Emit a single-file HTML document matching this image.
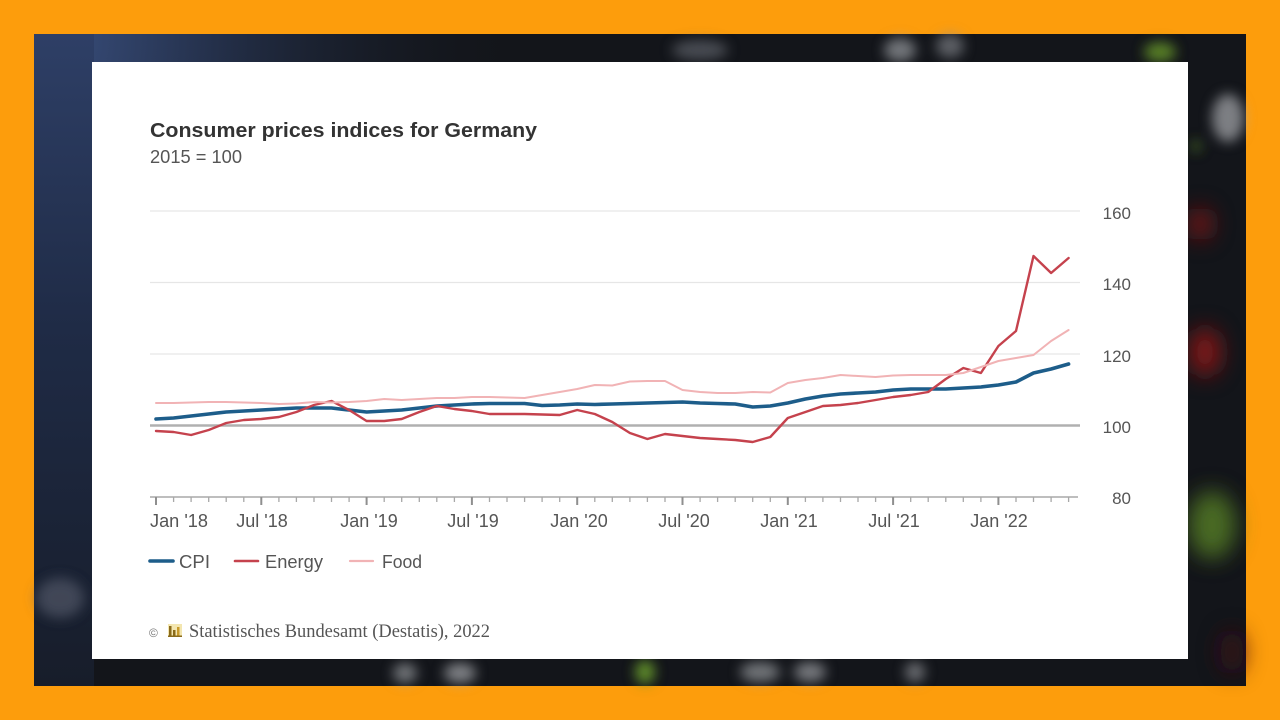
<!DOCTYPE html>
<html>
<head>
<meta charset="utf-8">
<style>
  html,body{margin:0;padding:0;background:#fd9d0c;}
  svg{display:block;}
  text{font-family:"Liberation Sans",Arial,sans-serif;}
</style>
</head>
<body>
<svg width="1280" height="720" viewBox="0 0 1280 720" xmlns="http://www.w3.org/2000/svg">
  <defs>
    <radialGradient id="navy" cx="40" cy="40" r="480" gradientUnits="userSpaceOnUse">
      <stop offset="0" stop-color="#3a5080"/>
      <stop offset="0.4" stop-color="#222d45"/>
      <stop offset="1" stop-color="#14171d" stop-opacity="0"/>
    </radialGradient>
    <linearGradient id="leftg" x1="0" y1="0" x2="0" y2="1">
      <stop offset="0" stop-color="#2e3f66"/>
      <stop offset="0.45" stop-color="#1f2b46"/>
      <stop offset="1" stop-color="#171d2a"/>
    </linearGradient>
    <filter id="blur" x="-50%" y="-50%" width="200%" height="200%">
      <feGaussianBlur stdDeviation="6"/>
    </filter>
    <filter id="blur2" x="-60%" y="-60%" width="220%" height="220%">
      <feGaussianBlur stdDeviation="11"/>
    </filter>
  </defs>

  <!-- orange frame -->
  <rect x="0" y="0" width="1280" height="720" fill="#fd9d0c"/>
  <!-- dark panel -->
  <rect x="34" y="34" width="1212" height="652" fill="#13151a"/>
  <rect x="34" y="34" width="700" height="652" fill="url(#navy)"/>
  <rect x="34" y="34" width="60" height="652" fill="url(#leftg)"/>

  <!-- blurred background blobs -->
  <g filter="url(#blur)">
    <ellipse cx="60" cy="598" rx="24" ry="20" fill="#5a6070" opacity="0.6"/>
    <ellipse cx="700" cy="50" rx="28" ry="10" fill="#6d7178" opacity="0.6"/>
    <ellipse cx="900" cy="50" rx="16" ry="12" fill="#9a9ea3" opacity="0.7"/>
    <ellipse cx="950" cy="46" rx="14" ry="12" fill="#8d9196" opacity="0.6"/>
    <ellipse cx="1160" cy="52" rx="16" ry="10" fill="#5e8a2a" opacity="0.9"/>
    <ellipse cx="1228" cy="118" rx="16" ry="24" fill="#a9acb0" opacity="0.7"/>
    <ellipse cx="1196" cy="146" rx="5" ry="6" fill="#4a6f24" opacity="0.8"/>
    <ellipse cx="405" cy="673" rx="12" ry="10" fill="#999ca0" opacity="0.7"/>
    <ellipse cx="460" cy="673" rx="16" ry="10" fill="#a3a6aa" opacity="0.75"/>
    <ellipse cx="645" cy="672" rx="10" ry="12" fill="#66982c" opacity="0.9"/>
    <ellipse cx="760" cy="672" rx="20" ry="10" fill="#999ca0" opacity="0.7"/>
    <ellipse cx="810" cy="672" rx="16" ry="10" fill="#a0a3a7" opacity="0.7"/>
    <ellipse cx="915" cy="672" rx="10" ry="10" fill="#909397" opacity="0.7"/>
  </g>
  <g filter="url(#blur2)">
    <ellipse cx="1200" cy="224" rx="12" ry="16" fill="#7e1418" opacity="0.9"/>
    <ellipse cx="1205" cy="352" rx="16" ry="24" fill="#8e151a" opacity="0.9"/>
    <ellipse cx="1212" cy="525" rx="24" ry="34" fill="#4f7424" opacity="0.9"/>
    <ellipse cx="1232" cy="652" rx="12" ry="22" fill="#40121a" opacity="0.8"/>
  </g>

  <!-- white card -->
  <rect x="92" y="62" width="1096" height="597" fill="#ffffff"/>

  <!-- title -->
  <text x="150" y="137" font-size="20" font-weight="bold" fill="#333333" textLength="387" lengthAdjust="spacingAndGlyphs">Consumer prices indices for Germany</text>
  <text x="150" y="163" font-size="18" fill="#555555" textLength="92" lengthAdjust="spacingAndGlyphs">2015 = 100</text>

  <!-- gridlines -->
  <g stroke="#e6e6e6" stroke-width="1.2">
    <line x1="150" y1="211" x2="1080" y2="211"/>
    <line x1="150" y1="282.5" x2="1080" y2="282.5"/>
    <line x1="150" y1="354" x2="1080" y2="354"/>
  </g>
  <line x1="150" y1="425.5" x2="1080" y2="425.5" stroke="#b0b0b0" stroke-width="2.6"/>

  <!-- x axis -->
  <line x1="150" y1="497" x2="1078" y2="497" stroke="#a8a8a8" stroke-width="1.5"/>
  <path stroke="#a8a8a8" stroke-width="1.3" fill="none" d="M156 497v5M173.6 497v5M191.1 497v5M208.7 497v5M226.2 497v5M243.8 497v5M261.3 497v5M278.9 497v5M296.4 497v5M314 497v5M331.5 497v5M349.1 497v5M366.6 497v5M384.2 497v5M401.7 497v5M419.3 497v5M436.8 497v5M454.4 497v5M471.9 497v5M489.5 497v5M507 497v5M524.6 497v5M542.1 497v5M559.7 497v5M577.2 497v5M594.8 497v5M612.3 497v5M629.9 497v5M647.4 497v5M665 497v5M682.5 497v5M700.1 497v5M717.6 497v5M735.2 497v5M752.7 497v5M770.3 497v5M787.8 497v5M805.4 497v5M822.9 497v5M840.5 497v5M858 497v5M875.6 497v5M893.1 497v5M910.7 497v5M928.2 497v5M945.8 497v5M963.3 497v5M980.9 497v5M998.4 497v5M1016 497v5M1033.5 497v5M1051.1 497v5M1068.6 497v5"/>
  <path stroke="#8f8f8f" stroke-width="2" fill="none" d="M156 497v8M261.3 497v8M366.6 497v8M471.9 497v8M577.2 497v8M682.5 497v8M787.8 497v8M893.1 497v8M998.4 497v8"/>

  <!-- x labels -->
  <g font-size="18" fill="#555555">
    <text x="150" y="527" textLength="58" lengthAdjust="spacingAndGlyphs">Jan '18</text>
    <text x="262" y="527" text-anchor="middle">Jul '18</text>
    <text x="369" y="527" text-anchor="middle">Jan '19</text>
    <text x="473" y="527" text-anchor="middle">Jul '19</text>
    <text x="579" y="527" text-anchor="middle">Jan '20</text>
    <text x="684" y="527" text-anchor="middle">Jul '20</text>
    <text x="789" y="527" text-anchor="middle">Jan '21</text>
    <text x="894" y="527" text-anchor="middle">Jul '21</text>
    <text x="999" y="527" text-anchor="middle">Jan '22</text>
  </g>

  <!-- y labels -->
  <g font-size="17" fill="#555555" text-anchor="end">
    <text x="1131" y="219">160</text>
    <text x="1131" y="290">140</text>
    <text x="1131" y="362">120</text>
    <text x="1131" y="433">100</text>
    <text x="1131" y="504">80</text>
  </g>

  <!-- series -->
  <polyline fill="none" stroke="#1d5d8a" stroke-width="3.6" stroke-linejoin="round" stroke-linecap="round"
    points="156,419 173.6,418 191.1,416 208.7,414 226.2,412 243.8,411 261.3,410 278.9,409 296.4,408 314,408 331.5,408 349.1,410 366.6,412 384.2,411 401.7,410 419.3,408 436.8,406 454.4,405 471.9,404 489.5,403.5 507,403.5 524.6,403.5 542.1,405.5 559.7,405 577.2,404 594.8,404.5 612.3,404 629.9,403.5 647.4,403 665,402.5 682.5,402 700.1,403 717.6,403.5 735.2,404 752.7,407 770.3,406 787.8,403 805.4,399 822.9,396 840.5,394 858,393 875.6,392 893.1,390 910.7,389 928.2,389 945.8,389 963.3,388 980.9,387 998.4,385 1016,382 1033.5,373 1051.1,369 1068.6,364"/>
  <polyline fill="none" stroke="#c5424d" stroke-width="2.4" stroke-linejoin="round" stroke-linecap="round"
    points="156,431 173.6,432 191.1,435 208.7,430 226.2,423 243.8,420 261.3,419 278.9,417 296.4,412 314,405 331.5,401 349.1,410 366.6,421 384.2,421 401.7,419 419.3,412 436.8,406 454.4,409 471.9,411 489.5,414 507,414 524.6,414 542.1,414.5 559.7,415 577.2,410 594.8,414 612.3,422 629.9,433 647.4,439 665,434 682.5,436 700.1,438 717.6,439 735.2,440 752.7,442 770.3,437 787.8,418 805.4,412 822.9,406 840.5,405 858,403 875.6,400 893.1,397 910.7,395 928.2,392 945.8,379 963.3,368 980.9,373 998.4,346 1016,331 1033.5,256 1051.1,273 1068.6,258"/>
  <polyline fill="none" stroke="#f1b3b5" stroke-width="2" stroke-linejoin="round" stroke-linecap="round"
    points="156,403 173.6,403 191.1,402.5 208.7,402 226.2,402 243.8,402.5 261.3,403 278.9,404 296.4,403.5 314,402 331.5,402.5 349.1,402 366.6,401 384.2,399 401.7,400 419.3,399 436.8,398 454.4,398 471.9,397 489.5,397 507,397.5 524.6,398 542.1,395 559.7,392 577.2,389 594.8,385 612.3,385.5 629.9,381.5 647.4,381 665,381 682.5,390 700.1,392 717.6,393 735.2,393 752.7,392 770.3,392.5 787.8,383 805.4,380 822.9,378 840.5,375 858,376 875.6,377 893.1,375.5 910.7,375 928.2,375 945.8,375 963.3,373 980.9,367 998.4,361 1016,358 1033.5,355 1051.1,341 1068.6,330"/>

  <!-- legend -->
  <line x1="150" y1="561" x2="173" y2="561" stroke="#1d5d8a" stroke-width="3.6" stroke-linecap="round"/>
  <text x="179" y="568" font-size="18" fill="#555555" textLength="31" lengthAdjust="spacingAndGlyphs">CPI</text>
  <line x1="235" y1="561" x2="258" y2="561" stroke="#c5424d" stroke-width="2.6" stroke-linecap="round"/>
  <text x="265" y="568" font-size="18" fill="#555555" textLength="58" lengthAdjust="spacingAndGlyphs">Energy</text>
  <line x1="350" y1="561" x2="373" y2="561" stroke="#f1b3b5" stroke-width="2.2" stroke-linecap="round"/>
  <text x="382" y="568" font-size="18" fill="#555555" textLength="40" lengthAdjust="spacingAndGlyphs">Food</text>

  <!-- footer -->
  <text x="149" y="637" font-size="12" fill="#777777">©</text>
  <g>
    <rect x="168" y="624" width="14" height="13" fill="#f3e6b0"/>
    <rect x="169" y="626" width="2.5" height="10" fill="#8a6a1a"/>
    <rect x="173" y="630" width="2.5" height="6" fill="#8a6a1a"/>
    <rect x="177" y="627" width="2.5" height="9" fill="#c89a2a"/>
    <rect x="168" y="635.5" width="14" height="1.5" fill="#8a6a1a"/>
  </g>
  <text x="189" y="637" font-size="19" fill="#555555" style="font-family:'Liberation Serif',serif" textLength="301" lengthAdjust="spacingAndGlyphs">Statistisches Bundesamt (Destatis), 2022</text>
</svg>
</body>
</html>
